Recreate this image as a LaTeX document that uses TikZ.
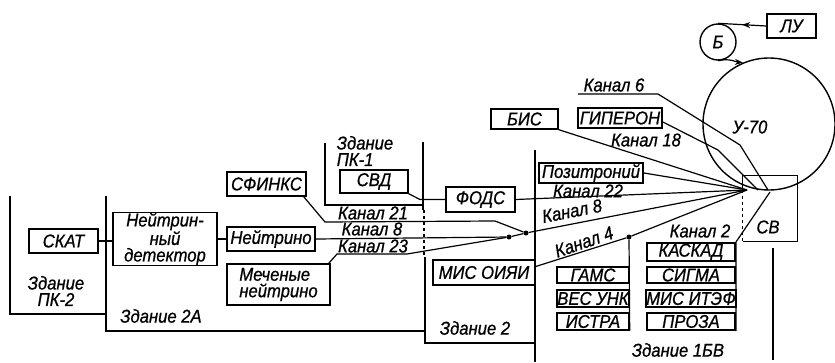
\documentclass[tikz,border=0pt]{standalone}
\usepackage{fontspec}
\newfontfamily\dfont{Liberation Sans}[FakeStretch=0.9,FakeBold=0.8]
\usetikzlibrary{arrows.meta,decorations.markings,calc}
\begin{document}
\begin{tikzpicture}[x=1pt,y=-1pt,
  every node/.style={font=\dfont\itshape\fontsize{18.5}{16.5}\selectfont, inner sep=0pt},
  bx/.style={draw, line width=1.4pt, align=center},
  wall/.style={line width=1.2pt},
  ln/.style={line width=1.2pt},
  dot/.style={circle, fill, minimum size=5pt, inner sep=0pt},
  midarrow/.style={postaction={decorate},decoration={markings,mark=at position 0.5 with {\arrow{Stealth[length=8pt,width=6pt]}}}},
]
\useasboundingbox (0,0) rectangle (835,362);

% buildings
\draw[wall] (10,196) -- (10,314) -- (106,314);
\draw[wall] (106,196) -- (106,331) -- (425,331);
\draw[wall] (325,143) -- (325,205) -- (423,205);
\draw[wall] (423,142) -- (423,210);
\draw[wall,dashed] (424,210) -- (424,257);
\draw[wall] (425,257) -- (425,343) -- (535,343);
\draw[wall] (535,150) -- (535,362);
\draw[wall] (773,248) -- (773,360);

% accelerator
\node[bx,minimum width=49pt,minimum height=24pt] (lu) at (791.5,26) {ЛУ};
\node[draw,circle,line width=1.4pt,minimum size=36pt] (b) at (718,42) {Б};
\node[draw,circle,line width=1.4pt,minimum size=132pt] (u70) at (769,124) {};
\node (u70t) at (750,127) {У-70};
\draw[ln,midarrow] (lu.west) -- (b.north);
\draw[ln,-{Stealth[length=8pt,width=6pt]}] (b.south) .. controls (730,58) and (736,62) .. (u70.113);

% boxes
\node[bx,minimum width=67pt,minimum height=20pt] (bis) at (524.5,119) {БИС};
\node[bx,minimum width=84pt,minimum height=20pt,line width=1.8pt] (giperon) at (620,118) {ГИПЕРОН};
\node[bx,minimum width=104pt,minimum height=20pt,line width=1.8pt] (poz) at (591,173) {Позитроний};
\node[bx,minimum width=69pt,minimum height=25pt] (fods) at (480.5,199.5) {ФОДС};
\node[bx,minimum width=68pt,minimum height=23pt] (svd) at (374,181.5) {СВД};
\node[bx,minimum width=79pt,minimum height=24pt] (sfinks) at (266.5,184) {СФИНКС};
\node[bx,minimum width=69pt,minimum height=24pt] (skat) at (63.5,241) {СКАТ};
\node[bx,minimum width=104pt,minimum height=52pt] (det) at (165,239) {Нейтрин-\\ный\\детектор};
\node[bx,minimum width=88pt,minimum height=24pt] (neu) at (271,239) {Нейтрино};
\node[bx,minimum width=103pt,minimum height=41pt,align=left] (mech) at (278.5,284.5) {Меченые\\нейтрино};
\node[bx,minimum width=102pt,minimum height=25pt] (mis) at (484,272.5) {МИС ОИЯИ};
\node[bx,minimum width=72pt,minimum height=16pt] (gams) at (593,275) {ГАМС};
\node[bx,minimum width=72pt,minimum height=17pt] (ves) at (593,298.5) {ВЕС УНК};
\node[bx,minimum width=72pt,minimum height=17pt] (istra) at (593,321.5) {ИСТРА};
\node[bx,minimum width=88pt,minimum height=18pt,line width=1.8pt] (kaskad) at (691,252) {КАСКАД};
\node[bx,minimum width=88pt,minimum height=16pt,line width=1.8pt] (sigma) at (691,275) {СИГМА};
\node[bx,minimum width=88pt,minimum height=17pt,line width=1.8pt] (itef) at (691,298.5) {МИС ИТЭФ};
\node[bx,minimum width=88pt,minimum height=17pt,line width=1.8pt] (proza) at (691,321.5) {ПРОЗА};

% CB box
\node[minimum width=54pt,minimum height=65pt] (cv) at (770,208.5) {};
\draw[wall] ($(cv.north west)+(0,16)$) -- (cv.north west) -- (cv.north east) -- (cv.south east) -- (cv.south west);
\draw[wall,dashed] (cv.south west) -- ($(cv.north west)+(0,16)$);
\node (cvt) at (768,227) {СВ};

% connection points
\coordinate (F) at (747,190);
\node[dot] (d1) at (509,237) {};
\node[dot] (d2) at (526,233) {};
\node[dot] (d3) at (629,237) {};
\coordinate (k6a) at (578,94);
\coordinate (k6b) at (658,94);
\coordinate (k6c) at (740,145);
\coordinate (k6d) at (768,190);
\coordinate (gpa) at (718,150);
\coordinate (gpb) at (758,190);
\coordinate (k2s) at (770,192);
\coordinate (k21a) at (325,222);
\coordinate (k21b) at (495,221);
\coordinate (k23a) at (337,254);
\coordinate (k23b) at (407,254);
\coordinate (svdb) at (420,199.5);

% connectors
\draw[ln] (skat.east) -- (det.west |- skat.east);
\draw[ln] (det.east) -- (neu.west);
\draw[ln] ($(sfinks.south east)+(-3,0)$) -- (k21a) -- (k21b) -- (d2);
\draw[ln] (neu.east) -- (d1);
\draw[ln] ($(mech.north east)+(-2,0)$) -- (k23a) -- (k23b) -- (d1);
\draw[ln] (d1) -- (d2) -- (F);
\draw[ln] (svd.south east) -- (svdb) -- (fods.west);
\draw[ln] (fods.east) -- (F);
\draw[ln] (poz.east) -- (F);
\draw[ln] (bis.south east) -- (F);
\draw[ln] ($(giperon.east)+(0,4)$) -- (gpa) -- (gpb);
\draw[ln] (k6a) -- (k6b) -- (k6c) -- (k6d);
\draw[ln] ($(mis.east)+(0,-6)$) -- (d3) -- (F);
\draw[ln] (d3) -- (istra.south east);
\draw[ln] (k2s) -- (kaskad.north east) -- (proza.south east);

% labels
\node (l6) at (614,85) {Канал 6};
\node (l18) at (646,140) {Канал 18};
\node (l22) at (588,191) {Канал 22};
\node[rotate=11] (l8b) at (572,211) {Канал 8};
\node[rotate=19] (l4) at (584,242) {Канал 4};
\node (l2) at (700,231) {Канал 2};
\node (l21) at (373,213) {Канал 21};
\node (l8a) at (372,229) {Канал 8};
\node (l23) at (373,246) {Канал 23};
\node[align=left] (pk1) at (365,151) {Здание\\ПК-1};
\node[align=center] (pk2) at (56,291) {Здание\\ПК-2};
\node (z2a) at (161,316) {Здание 2А};
\node (z2) at (475,328) {Здание 2};
\node (z1b) at (678,350) {Здание 1БВ};
\end{tikzpicture}
\end{document}
